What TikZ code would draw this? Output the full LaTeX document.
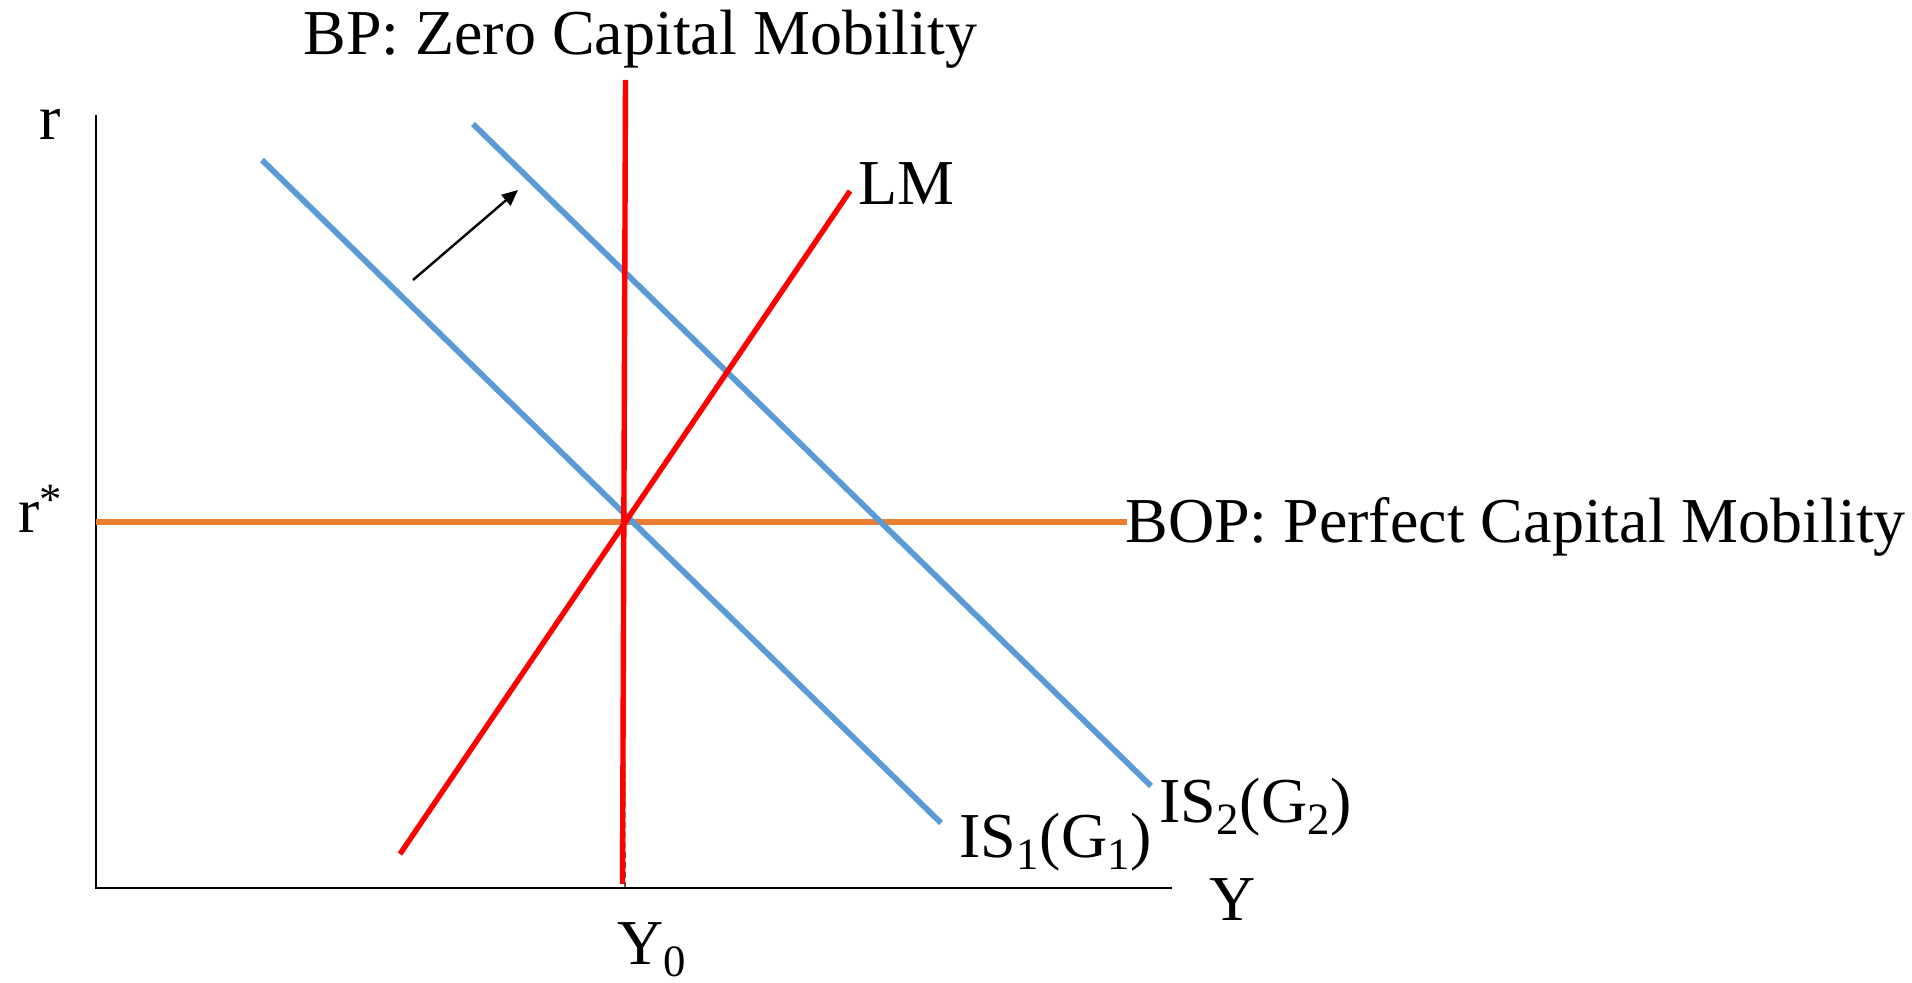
\documentclass[tikz,border=0pt]{standalone}
\usepackage{fontspec}
\setmainfont{Liberation Serif}
\usetikzlibrary{arrows.meta}
\definecolor{isblue}{HTML}{5B9BD5}
\definecolor{boporange}{HTML}{ED7D31}
\definecolor{curvered}{HTML}{FF0000}
\begin{document}
\begin{tikzpicture}[x=0.5pt,y=-0.5pt,
  axis/.style={line width=1pt,black},
  iscurve/.style={line width=2.9pt,isblue},
  redcurve/.style={line width=2.7pt,curvered},
  bopcurve/.style={line width=2.8pt,boporange},
  shiftarrow/.style={line width=1.2pt,black,-{Triangle[length=8pt,width=7pt]}},
  lbl/.style={inner sep=0pt,anchor=base west,font=\fontsize{32}{38}\selectfont},
  drop/.style={line width=0.6pt,black,dash pattern=on 3pt off 2pt}]
\useasboundingbox (0,0) rectangle (1912,983);
% axes
\coordinate (otop) at (96,115);
\coordinate (orig) at (96,888);
\coordinate (xend) at (1172,888);
\draw[axis] (otop) -- (orig) -- (xend);
% key points
\coordinate (eq) at (624,522);
\coordinate (eqbase) at (625,888);
\draw[drop] (eq) -- (eqbase);
% BOP
\coordinate (bopL) at (96,522);
\coordinate (bopR) at (1127,522);
\draw[bopcurve] (bopL) -- (bopR);
% IS curves
\coordinate (is1a) at (262,160);
\coordinate (is1b) at (941,823);
\draw[iscurve] (is1a) -- (is1b);
\coordinate (is2a) at (473,124);
\coordinate (is2b) at (1151,786);
\draw[iscurve] (is2a) -- (is2b);
% LM
\coordinate (lma) at (400,854);
\coordinate (lmb) at (850,191);
\draw[redcurve] (lma) -- (lmb);
% BP vertical
\coordinate (bpa) at (625.5,80);
\coordinate (bpb) at (622.5,884);
\draw[redcurve] (bpa) -- (bpb);
% shift arrow
\coordinate (arra) at (413,280);
\coordinate (arrb) at (518,190);
\draw[shiftarrow] (arra) -- (arrb);
% labels
\node[lbl] (title) at (303,55) {BP: Zero Capital Mobility};
\node[lbl] (rlab) at (39,140) {r};
\node[lbl] (rstar) at (18,533) {r\textsuperscript{*}};
\node[lbl] (lmlab) at (858,205) {LM};
\node[lbl] (boplab) at (1125,543) {BOP: Perfect Capital Mobility};
\node[lbl] (is1lab) at (959,857) {IS\textsubscript{1}(G\textsubscript{1})};
\node[lbl] (is2lab) at (1159,822) {IS\textsubscript{2}(G\textsubscript{2})};
\node[lbl] (ylab) at (1209,920) {Y};
\node[lbl] (y0lab) at (617,964) {Y\textsubscript{0}};
\end{tikzpicture}
\end{document}
